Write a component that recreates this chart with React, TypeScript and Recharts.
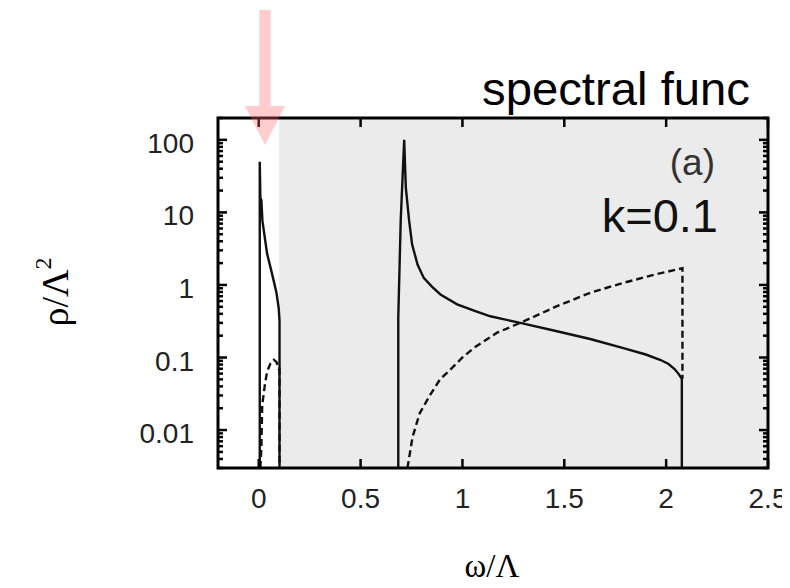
import React from 'react';
import { LineChart, Line, XAxis, YAxis, ReferenceArea } from 'recharts';

// --- data (omega/Lambda, rho/Lambda^2) ---
const leftSolidX = [0.005, 0.005, 0.008, 0.013, 0.018, 0.041, 0.066, 0.087, 0.098, 0.102, 0.102];
const leftSolidY = [0.003, 50, 16, 14.7, 7.7, 2.7, 1.4, 0.78, 0.48, 0.32, 0.003];

const leftDashX = [0.008, 0.013, 0.017, 0.03, 0.041, 0.058, 0.074, 0.087, 0.098, 0.102, 0.102];
const leftDashY = [0.003, 0.006, 0.022, 0.042, 0.064, 0.083, 0.093, 0.087, 0.07, 0.07, 0.003];

const rightSolidX = [0.685, 0.685, 0.697, 0.714, 0.722, 0.738, 0.753, 0.78, 0.81, 0.85, 0.892, 0.974, 1.06, 1.137, 1.284, 1.464, 1.627, 1.79, 1.9, 1.97, 2.01, 2.04, 2.06, 2.077, 2.077];
const rightSolidY = [0.003, 0.36, 7.8, 100, 22, 7.8, 3.6, 1.9, 1.25, 0.95, 0.74, 0.54, 0.44, 0.37, 0.3, 0.23, 0.18, 0.135, 0.11, 0.093, 0.082, 0.07, 0.06, 0.051, 0.003];

const rightDashX = [0.73, 0.755, 0.79, 0.84, 0.89, 0.94, 1.0, 1.055, 1.17, 1.284, 1.464, 1.627, 1.79, 1.954, 2.08, 2.08];
const rightDashY = [0.003, 0.008, 0.017, 0.03, 0.05, 0.068, 0.1, 0.135, 0.22, 0.3, 0.51, 0.78, 1.07, 1.41, 1.7, 0.051];

const xTicks = [0, 0.5, 1, 1.5, 2, 2.5];
const yMajor = [0.01, 0.1, 1, 10, 100];
const yMinor: number[] = [];
for (const d of [-3, -2, -1, 0, 1, 2]) {
  for (let k = 2; k <= 9; k++) {
    const v = +(k * Math.pow(10, d)).toPrecision(3);
    if (v >= 0.003 && v <= 200) yMinor.push(v);
  }
}
const yTicks = [...yMajor, ...yMinor].sort((a, b) => a - b);

const toPts = (xs: number[], ys: number[]) => xs.map((x, i) => ({ x, y: ys[i] }));

const W = 782;
const H = 580;
const PLOT = { left: 210, top: 110, width: 550, height: 350 };
const TICK_FONT = "'Liberation Sans', Arial, sans-serif";

const YTick = (props: any) => {
  const { y, payload } = props;
  const v = payload.value;
  const major = yMajor.includes(v);
  const len = major ? 9 : 5;
  const lx = PLOT.left;
  const rx = PLOT.left + PLOT.width;
  return (
    <g>
      <line x1={lx} x2={lx + len} y1={y} y2={y} stroke="#000" strokeWidth={2.5} />
      <line x1={rx} x2={rx - len} y1={y} y2={y} stroke="#000" strokeWidth={2.5} />
      {major && (
        <text x={lx - 24} y={y + 13} textAnchor="end" fontSize={28} fontFamily={TICK_FONT} fill="#222">
          {String(v)}
        </text>
      )}
    </g>
  );
};

const XTick = (props: any) => {
  const { x, payload } = props;
  const top = PLOT.top;
  const bottom = PLOT.top + PLOT.height;
  return (
    <g>
      <line x1={x} x2={x} y1={bottom} y2={bottom - 9} stroke="#000" strokeWidth={2.5} />
      <line x1={x} x2={x} y1={top} y2={top + 9} stroke="#000" strokeWidth={2.5} />
      <text x={x} y={bottom + 40} textAnchor="middle" fontSize={28} fontFamily={TICK_FONT} fill="#222">
        {String(payload.value)}
      </text>
    </g>
  );
};

const solid = { stroke: '#111', strokeWidth: 2.4, dot: false, isAnimationActive: false, type: 'linear' as const };

export default function App() {
  return (
    <div style={{ position: 'relative', width: W, height: H }}>
      <LineChart width={W} height={H} style={{ overflow: 'visible' }} margin={{ top: PLOT.top, right: W - PLOT.left - PLOT.width, bottom: H - PLOT.top - PLOT.height - 40, left: PLOT.left - 60 }}>
        <XAxis
          dataKey="x"
          type="number"
          domain={[-0.2, 2.5]}
          ticks={xTicks}
          allowDataOverflow
          height={40}
          tickSize={0}
          tickMargin={0}
          tickLine={false}
          axisLine={false}
          interval={0}
          tick={<XTick />}
        />
        <YAxis
          type="number"
          scale="log"
          domain={[0.003, 200]}
          ticks={yTicks}
          allowDataOverflow
          width={60}
          tickSize={0}
          tickMargin={0}
          tickLine={false}
          axisLine={false}
          interval={0}
          tick={<YTick />}
        />
        <ReferenceArea x1={0.1} x2={2.5} fill="#ebebeb" fillOpacity={1} stroke="none" />
        <Line data={toPts(leftSolidX, leftSolidY)} dataKey="y" {...solid} />
        <Line data={toPts(leftDashX, leftDashY)} dataKey="y" {...solid} strokeDasharray="7 4" />
        <Line data={toPts(rightSolidX, rightSolidY)} dataKey="y" {...solid} />
        <Line data={toPts(rightDashX, rightDashY)} dataKey="y" {...solid} strokeDasharray="7 4" />
      </LineChart>
      <svg width={W} height={H} style={{ position: 'absolute', left: 0, top: 0, pointerEvents: 'none' }}>
        <rect x={PLOT.left} y={PLOT.top} width={PLOT.width} height={PLOT.height} fill="none" stroke="#000" strokeWidth={3} />
        <text x={742} y={97} textAnchor="end" fontSize={46} fontFamily="'Liberation Sans', Arial, sans-serif" fill="#000" textLength={268} lengthAdjust="spacingAndGlyphs">
          spectral func
        </text>
        <text x={707} y={167} textAnchor="end" fontSize={37} fontFamily="'Liberation Sans', Arial, sans-serif" fill="#333">
          (a)
        </text>
        <text x={710} y={224} textAnchor="end" fontSize={47} fontFamily="'Liberation Sans', Arial, sans-serif" fill="#111">
          k=0.1
        </text>
        <text transform="translate(60,284) rotate(-90)" textAnchor="middle" fontSize={38} fontFamily="'Liberation Serif', 'Times New Roman', serif" fill="#000">
          ρ/Λ<tspan fontSize={24} dy={-17}>2</tspan>
        </text>
        <text x={484} y={569} textAnchor="middle" fontSize={33} fontFamily="'Liberation Serif', 'Times New Roman', serif" fill="#000">
          ω/Λ
        </text>
        <rect x={251.3} y={2} width={11.4} height={96} fill="#ff6666" fillOpacity={0.33} />
        <polygon points="237,98 277,98 257,137" fill="#ff6666" fillOpacity={0.33} />
      </svg>
    </div>
  );
}
